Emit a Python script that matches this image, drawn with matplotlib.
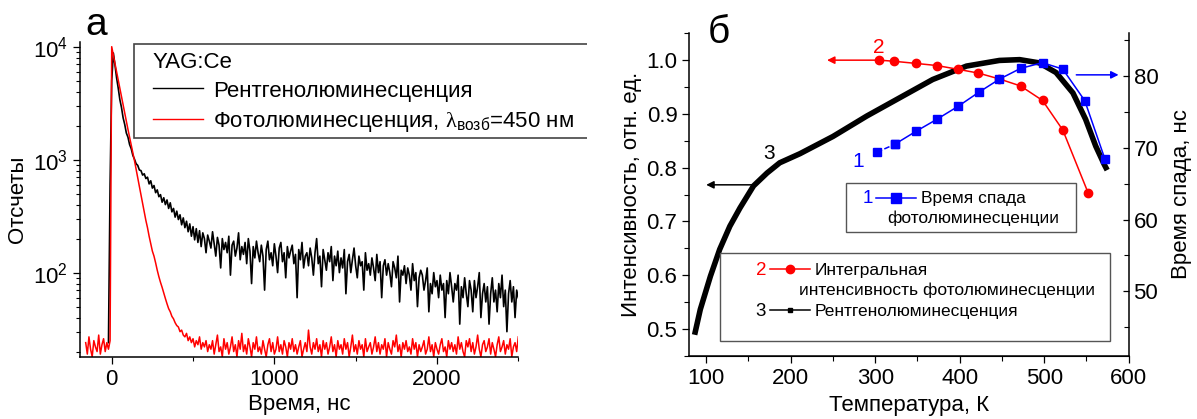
import numpy as np
import matplotlib.pyplot as plt
from matplotlib.lines import Line2D
from matplotlib.patches import Rectangle
from matplotlib.ticker import MultipleLocator
from matplotlib.transforms import Bbox, TransformedBbox

plt.rcParams['font.family'] = ['Liberation Sans', 'DejaVu Sans']
plt.rcParams['mathtext.fontset'] = 'custom'
plt.rcParams['mathtext.rm'] = 'Liberation Sans'
plt.rcParams['mathtext.it'] = 'Liberation Sans:italic'
plt.rcParams['mathtext.sf'] = 'Liberation Serif'

W, H = 1197, 419

# (а) decay curves, one value every 10 ns
t_xrl_start = -20
xrl_counts = [
    24, 600, 5000, 8800, 6900, 5300, 4300, 3400, 2900, 2350, 2050, 1720, 1580,
    1360, 1250, 1090, 1010, 920, 890, 810, 800, 730, 750, 680, 700, 610, 650,
    560, 590, 510, 540, 470, 490, 420, 460, 400, 440, 370, 415, 345, 370, 310,
    350, 295, 325, 265, 305, 250, 285, 230, 270, 210, 255, 195, 245, 185, 235,
    170, 225, 200, 150, 215, 190,
    165, 230, 180, 140, 205, 175, 110, 200, 160, 185,
    150, 210, 95, 175, 190, 140, 165, 225, 130, 170,
    145, 185, 120, 200, 155, 80, 170, 135, 190, 150,
    125, 175, 140, 70, 160, 190, 130, 150, 115, 180,
    140, 100, 165, 185, 125, 150, 90, 170, 135, 155,
    175, 120, 145, 60, 160, 130, 185, 110, 140, 150,
    115, 165, 135, 95, 150, 200, 120, 140, 75, 160,
    130, 105, 150, 125, 170, 85, 140, 115, 155, 100,
    135, 110, 160, 65, 125, 145, 100, 130, 165, 115,
    90, 140, 115, 125, 70, 150, 105, 120, 95, 135,
    110, 85, 145, 100, 125, 60, 115, 130, 95, 120,
    100, 75, 125, 110, 90, 140, 55, 105, 95, 115,
    80, 110, 95, 70, 120, 85, 100, 50, 90, 105,
    95, 70, 85, 110, 45, 80, 65, 100, 75, 85,
    60, 95, 70, 80, 40, 85, 65, 100, 75, 55,
    80, 70, 95, 35, 75, 60, 90, 65, 50, 85,
    70, 45, 85, 60, 75, 100, 40, 65, 80, 55,
    75, 35, 65, 90, 55, 70, 45, 80, 60, 95,
    50, 70, 30, 65, 85, 55, 75, 40, 70, 60,
]
t_pl_start = -160
pl_counts = [
    24, 19, 27, 21, 18, 25, 22, 20, 28, 19, 23, 26, 20, 24, 21, 25,
    10000, 8400, 7100, 6000, 5050, 4250, 3600, 3050, 2600, 2200, 1850, 1580,
    1350, 1150, 980, 820, 690, 580, 490, 410, 345, 290, 250, 210, 180, 155,
    140, 122, 105, 92, 82, 74, 66, 59, 53, 48, 45, 41, 39, 36, 34, 33, 30, 31,
    28, 27, 29, 25, 27, 24, 26, 22, 25, 23, 27, 21, 24, 22, 25, 20, 23,
    21, 25, 19, 23, 28, 20, 22, 18, 26, 21,
    24, 19, 22, 27, 20, 23, 18, 25, 21, 29,
    20, 23, 19, 26, 22, 18, 24, 21, 27, 20,
    22, 19, 25, 21, 18, 23, 26, 20, 24, 19,
    21, 27, 20, 23, 19, 25, 22, 18, 24, 21,
    26, 20, 23, 19, 22, 25, 18, 21, 24, 20,
    31, 22, 19, 24, 21, 26, 20, 23, 18, 25,
    21, 24, 19, 22, 27, 20, 23, 18, 25, 21,
    23, 19, 26, 21, 24, 18, 22, 28, 20, 23,
    19, 25, 21, 23, 18, 26, 20, 22, 24, 19,
    22, 27, 20, 24, 19, 23, 21, 26, 18, 24,
    21, 19, 25, 22, 28, 20, 23, 18, 24, 21,
    25, 20, 22, 19, 26, 21, 24, 18, 23, 20,
    22, 25, 19, 21, 27, 20, 23, 18, 24, 21,
    19, 23, 26, 20, 22, 18, 25, 21, 24, 20,
    23, 19, 27, 21, 24, 20, 18, 25, 22, 26,
    20, 24, 19, 22, 28, 21, 18, 23, 25, 20,
    22, 26, 19, 24, 21, 18, 23, 27, 20, 22,
    25, 19, 23, 21, 26, 18, 22, 24, 20, 27,
]

# (б) temperature dependences
temp_tau = [302, 323, 348, 373, 398, 423, 447, 472, 498, 522, 548, 572]
tau_ns = [69.4, 70.5, 72.3, 74.0, 75.8, 77.8, 79.6, 81.1, 81.9, 81.0, 76.6, 68.4]
temp_int = [305, 322, 348, 373, 398, 422, 447, 472, 498, 522, 552]
int_pl = [1.0, 0.998, 0.994, 0.99, 0.983, 0.976, 0.965, 0.952, 0.925, 0.870, 0.753]
temp_xrl = [87, 93, 105, 116, 128, 140, 156, 172, 187, 211, 250, 290, 329,
            368, 408, 447, 471, 494, 514, 534, 549, 561, 571, 573]
int_xrl = [0.494, 0.536, 0.598, 0.648, 0.691, 0.725, 0.766, 0.79, 0.809, 0.826,
           0.858, 0.896, 0.930, 0.964, 0.989, 0.9995, 1.001, 0.995, 0.977,
           0.939, 0.89, 0.84, 0.806, 0.80]


def fx(x):
    return x / W


def fy(y):
    return 1 - y / H


fig = plt.figure(figsize=(W / 100, H / 100), dpi=100)

# ---- panel а ----
ax1 = fig.add_axes([fx(80), fy(357.3), (518.3 - 80) / W, (357.3 - 41.7) / H])
t_xrl = t_xrl_start + 10 * np.arange(len(xrl_counts))
t_pl = t_pl_start + 10 * np.arange(len(pl_counts))
ax1.plot(t_xrl, xrl_counts, color='black', lw=1.2)
ax1.plot(t_pl, pl_counts, color='red', lw=1.1)
ax1.set_yscale('log')
ax1.set_xlim(-195, 2500)
ax1.set_ylim(17.8, 11070)
ax1.xaxis.set_major_locator(MultipleLocator(1000))
ax1.xaxis.set_minor_locator(MultipleLocator(500))
for s in ['top', 'right']:
    ax1.spines[s].set_visible(False)
for s in ['left', 'bottom']:
    ax1.spines[s].set_linewidth(1.1)
ax1.tick_params(which='major', direction='out', length=5, width=0.9, labelsize=16)
ax1.tick_params(which='minor', direction='out', length=3, width=0.8)

fig.text(fx(299), fy(410), 'Время, нс', ha='center', va='baseline', fontsize=16)
fig.text(fx(18), fy(199.5), 'Отсчеты', ha='center', va='center', rotation=90, fontsize=16)
fig.text(fx(96), fy(35), 'а', ha='center', va='baseline', fontsize=28)

# legend of panel а, cut off at the right like the original
clip = TransformedBbox(Bbox([[0, 0], [fx(587), 1]]), fig.transFigure)
leg_items = []
leg_items.append(Rectangle((fx(134), fy(138.3)), fx(700) - fx(134), (138.3 - 44.3) / H,
                           transform=fig.transFigure, fill=False, edgecolor='#444444', lw=1.2))
leg_items.append(Line2D([fx(153), fx(203)], [fy(88.3), fy(88.3)], color='black', lw=1,
                        transform=fig.transFigure))
leg_items.append(Line2D([fx(153), fx(203)], [fy(119), fy(119)], color='red', lw=1,
                        transform=fig.transFigure))
for a in leg_items:
    fig.add_artist(a)
leg_items.append(fig.text(fx(153), fy(68.3), 'YAG:Ce', va='baseline', fontsize=16))
leg_items.append(fig.text(fx(213), fy(96.7), 'Рентгенолюминесценция', va='baseline', fontsize=16))
leg_items.append(fig.text(fx(213), fy(127.3),
                          'Фотолюминесценция, $\\mathsf{\\lambda}_{\\mathregular{возб}}$=450 нм',
                          va='baseline', fontsize=16))
for a in leg_items:
    a.set_clip_box(clip)
    a.set_clip_on(True)

# ---- panel б ----
ax2 = fig.add_axes([fx(689.3), fy(355.7), (1128.7 - 689.3) / W, (355.7 - 33.3) / H])
ax2.plot(temp_xrl, int_xrl, color='black', lw=4, zorder=2)
ax2.plot(temp_int, int_pl, '-o', color='red', ms=6, lw=1.1, zorder=3)
ax2.set_xlim(80, 600)
ax2.set_ylim(0.45, 1.05)
ax2.xaxis.set_major_locator(MultipleLocator(100))
ax2.xaxis.set_minor_locator(MultipleLocator(50))
ax2.yaxis.set_major_locator(MultipleLocator(0.1))
ax2.yaxis.set_minor_locator(MultipleLocator(0.05))
ax2.spines['top'].set_visible(False)
ax2.spines['right'].set_visible(False)
for s in ['left', 'bottom']:
    ax2.spines[s].set_linewidth(1.1)
ax2.tick_params(which='major', direction='out', length=5, width=0.9, labelsize=16)
ax2.tick_params(which='minor', direction='out', length=3.5, width=0.8)

ax3 = ax2.twinx()
ax3.plot(temp_tau[:2], tau_ns[:2], '--s', color='blue', ms=6, lw=1.1, zorder=4)
ax3.plot(temp_tau[1:], tau_ns[1:], '-s', color='blue', ms=6, lw=1.1, zorder=4)
ax3.set_ylim(41, 86)
ax3.yaxis.set_major_locator(MultipleLocator(10))
ax3.yaxis.set_minor_locator(MultipleLocator(5))
ax3.spines['top'].set_visible(False)
ax3.spines['left'].set_visible(False)
ax3.spines['right'].set_linewidth(1.1)
ax3.tick_params(which='major', direction='in', length=4, width=0.9, labelsize=16)
ax3.tick_params(which='minor', direction='in', length=3.5, width=0.8)

arrow = dict(arrowstyle='-|>', lw=1.1, mutation_scale=11, shrinkA=0, shrinkB=0)
ax2.annotate('', xy=(243, 1.0), xytext=(305, 1.0), arrowprops=dict(arrow, color='red'))
ax2.annotate('', xy=(100, 0.768), xytext=(158, 0.768), arrowprops=dict(arrow, color='black'))
ax3.annotate('', xy=(588, 80.2), xytext=(538, 80.2), arrowprops=dict(arrow, color='blue'))

fig.text(fx(878.3), fy(52.7), '2', color='red', ha='center', va='baseline', fontsize=15)
fig.text(fx(768.7), fy(159.3), '3', color='black', ha='center', va='baseline', fontsize=15)
fig.text(fx(858.3), fy(166.7), '1', color='blue', ha='center', va='baseline', fontsize=15)

fig.text(fx(909), fy(411), 'Температура, К', ha='center', va='baseline', fontsize=16)
fig.text(fx(632), fy(194), 'Интенсивность, отн. ед.', ha='center', va='center',
         rotation=90, fontsize=16)
fig.text(fx(1182), fy(194), 'Время спада, нс', ha='center', va='center',
         rotation=90, fontsize=16)
fig.text(fx(719.3), fy(43.3), 'б', ha='center', va='baseline', fontsize=28)

# legend boxes of panel б
fig.add_artist(Rectangle((fx(846), fy(231.7)), (1075.7 - 846) / W, (231.7 - 183.3) / H,
                         transform=fig.transFigure, fill=False, edgecolor='#555555', lw=1))
fig.add_artist(Rectangle((fx(720), fy(340.7)), (1110 - 720) / W, (340.7 - 252.7) / H,
                         transform=fig.transFigure, fill=False, edgecolor='#555555', lw=1))


def handle(x1, x2, y, color, marker, ms):
    fig.add_artist(Line2D([fx(x1), fx(x2)], [fy(y), fy(y)], color=color, lw=1.1,
                          transform=fig.transFigure))
    fig.add_artist(Line2D([fx((x1 + x2) / 2)], [fy(y)], color=color, marker=marker, ms=ms,
                          ls='none', transform=fig.transFigure))


fig.text(fx(868), fy(203), '1', color='blue', ha='center', va='baseline', fontsize=13.5)
handle(876, 916, 198.5, 'blue', 's', 7)
fig.text(fx(921), fy(203), 'Время спада', va='baseline', fontsize=12.5)
fig.text(fx(887), fy(222.5), 'фотолюминесценции', va='baseline', fontsize=12.5)

fig.text(fx(761), fy(275), '2', color='red', ha='center', va='baseline', fontsize=13.5)
handle(770, 810, 268.7, 'red', 'o', 6)
fig.text(fx(815), fy(275), 'Интегральная', va='baseline', fontsize=12.5)
fig.text(fx(799), fy(295), 'интенсивность фотолюминесценции', va='baseline', fontsize=12.5)
fig.text(fx(761), fy(316), '3', color='black', ha='center', va='baseline', fontsize=13.5)
handle(770, 810, 310, 'black', 's', 2.5)
fig.text(fx(815), fy(316), 'Рентгенолюминесценция', va='baseline', fontsize=12.5)

fig.savefig('out.png', dpi=100)
